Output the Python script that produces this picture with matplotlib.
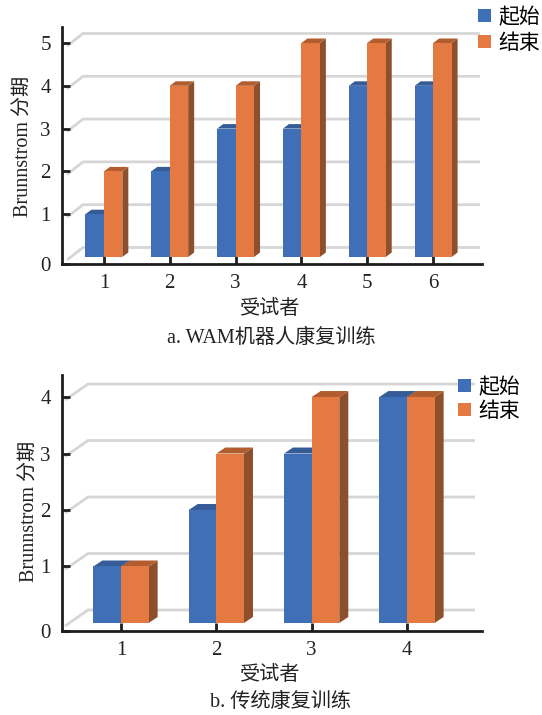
import numpy as np
import matplotlib
matplotlib.use("Agg")
import matplotlib.pyplot as plt
from matplotlib.patches import Polygon, Patch

plt.rcParams['font.family'] = ['Liberation Serif', 'Noto Sans CJK SC']

# Brunnstrom stage per subject, before and after training
subjects_a = [1, 2, 3, 4, 5, 6]
start_a = [1, 2, 3, 3, 4, 4]
end_a = [2, 4, 4, 5, 5, 5]

subjects_b = [1, 2, 3, 4]
start_b = [1, 2, 3, 4]
end_b = [1, 3, 4, 4]

series_names = ['起始', '结束']
ylabel = 'Brunnstrom 分期'
xlabel = '受试者'
caption_a = 'a. WAM机器人康复训练'
caption_b = 'b. 传统康复训练'

BLUE, BLUE_TOP, BLUE_SIDE = '#3F6FB6', '#365C97', '#2E4E80'
ORANGE, ORANGE_TOP, ORANGE_SIDE = '#E47A41', '#B15D30', '#8D4F2C'
GRID = '#D6D6D6'
INK = '#1E1E1E'


def px_to_data(ax, dx, dy):
    # convert a pixel offset into data units of this axes
    p0 = ax.transData.transform((0, 0))
    p1 = ax.transData.transform((1, 1))
    return dx / (p1[0] - p0[0]), dy / (p1[1] - p0[1])


def draw_chart(ax, subjects, start, end, xlim, ylim, ymax, bar_w, depth, wall, diag_x, right_cut):
    ax.set_xlim(*xlim)
    ax.set_ylim(*ylim)
    x = np.array(subjects, dtype=float)

    # back wall gridlines with the slanted floor/side lines
    wx, wy = px_to_data(ax, *wall)
    dx0, _ = px_to_data(ax, diag_x, 0)
    _, dy0 = px_to_data(ax, 0, -3)
    rx, _ = px_to_data(ax, right_cut, 0)
    for v in range(ymax + 1):
        ax.plot([xlim[0] + dx0, xlim[0] + wx, xlim[1] - rx],
                [v + dy0, v + wy, v + wy],
                color=GRID, lw=2.0, solid_capstyle='butt', zorder=1)

    ddx, ddy = px_to_data(ax, *depth)
    groups = [(x - bar_w, start, BLUE, BLUE_TOP, BLUE_SIDE),
              (x, end, ORANGE, ORANGE_TOP, ORANGE_SIDE)]
    z = 2
    for left, vals, c_front, c_top, c_side in groups:
        for xl, h in zip(left, vals):
            xr = xl + bar_w
            side = Polygon([(xr, 0), (xr + ddx, ddy), (xr + ddx, h + ddy), (xr, h)],
                           closed=True, facecolor=c_side, edgecolor='none', zorder=z)
            top = Polygon([(xl, h), (xl + ddx, h + ddy), (xr + ddx, h + ddy), (xr, h)],
                          closed=True, facecolor=c_top, edgecolor='none', zorder=z)
            ax.add_patch(side)
            ax.add_patch(top)
        ax.bar(left, vals, width=bar_w, align='edge', color=c_front,
               edgecolor='none', zorder=z + 1)
        z += 2

    ticks = np.arange(ymax + 1, dtype=float)
    tick_pos = ticks.copy()
    tick_pos[0] = ylim[0]
    ax.set_yticks(tick_pos)
    ax.set_yticklabels([str(int(t)) for t in ticks])
    ax.set_xticks(x)
    ax.set_xticklabels([str(s) for s in subjects])

    for s in ['top', 'right']:
        ax.spines[s].set_visible(False)
    for s in ['left', 'bottom']:
        ax.spines[s].set_color(INK)
        ax.spines[s].set_linewidth(2.0)
    ax.tick_params(axis='both', direction='in', length=6, width=2.0, color=INK,
                   labelsize=15, labelcolor='#222222')
    ax.tick_params(axis='y', pad=8)
    ax.tick_params(axis='x', pad=7)


W, H = 542, 715
fig = plt.figure(figsize=(W / 100, H / 100), dpi=100)


def axes_px(left, top, right, bottom):
    return fig.add_axes([left / W, 1 - bottom / H, (right - left) / W, (bottom - top) / H])


ax1 = axes_px(62, 27, 482, 264)
draw_chart(ax1, subjects_a, start_a, end_a, xlim=(0.364, 6.742), ylim=(-0.164, 5.374),
           ymax=5, bar_w=0.28, depth=(6, 4.5), wall=(21, 9.5), diag_x=5, right_cut=2)

ax2 = axes_px(62, 375, 482, 631)
draw_chart(ax2, subjects_b, start_b, end_b, xlim=(0.381, 4.787), ylim=(-0.142, 4.39),
           ymax=4, bar_w=0.29, depth=(9, 6), wall=(26, 13), diag_x=3, right_cut=7)

handles = [Patch(facecolor=BLUE, edgecolor='none'), Patch(facecolor=ORANGE, edgecolor='none')]
for ax, anchor, spacing in [(ax1, (478, 8), 0.3), (ax2, (458, 378), 0.2)]:
    ax.legend(handles, series_names, loc='upper left',
              bbox_to_anchor=(anchor[0] / W, 1 - anchor[1] / H), bbox_transform=fig.transFigure,
              frameon=False, fontsize=15, handlelength=0.6, handleheight=0.6,
              handletextpad=0.4, labelspacing=spacing, borderpad=0, borderaxespad=0)

txt = dict(color='#222222', fontsize=14.5, ha='center', va='center')
fig.text(24 / W, 1 - 146 / H, ylabel, rotation=90, **txt)
fig.text(30 / W, 1 - 511 / H, ylabel, rotation=90, **txt)
fig.text(270 / W, 1 - 309 / H, xlabel, **txt)
fig.text(271 / W, 1 - 338 / H, caption_a, **txt)
fig.text(270 / W, 1 - 675 / H, xlabel, **txt)
fig.text(280 / W, 1 - 702 / H, caption_b, **txt)

fig.savefig('out.png', dpi=100)
